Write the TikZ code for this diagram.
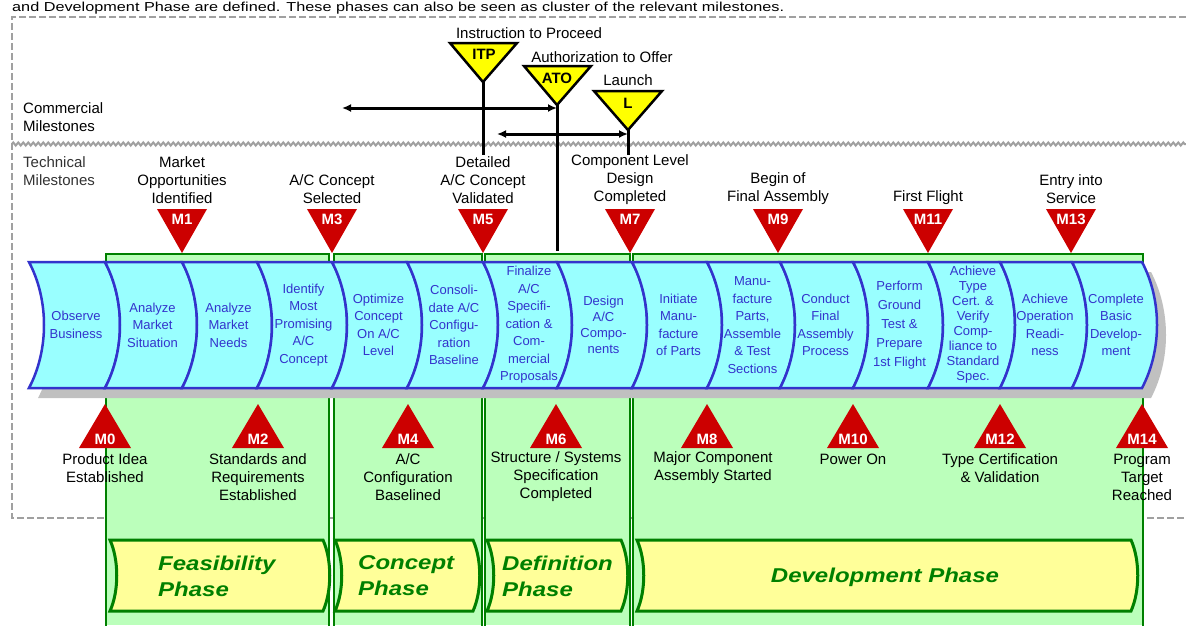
\documentclass[tikz,border=0pt]{standalone}
\usepackage{fontspec}
\setmainfont{Liberation Sans}
\newfontfamily\phasefont[FakeStretch=1.2]{Liberation Sans}
\newfontfamily\capfont[FakeStretch=1.25]{Liberation Sans}
\usetikzlibrary{arrows.meta,decorations.pathmorphing}
\definecolor{chevfill}{HTML}{99FFFF}
\definecolor{chevblue}{HTML}{3333CC}
\definecolor{mred}{HTML}{CC0000}
\definecolor{myellow}{HTML}{FFFF00}
\definecolor{pfill}{HTML}{FFFF99}
\definecolor{gfill}{HTML}{BBFFBB}
\definecolor{gline}{HTML}{008000}
\definecolor{shadowgray}{HTML}{C0C0C0}
\definecolor{dashgray}{HTML}{A0A0A0}
\begin{document}
\begin{tikzpicture}[x=1pt,y=-1pt,
  lbl/.style={font=\fontsize{15}{18}\selectfont, align=center, inner sep=0},
  sidelbl/.style={font=\fontsize{15}{18}\selectfont, align=left, inner sep=0, anchor=west},
  chtext/.style={font=\fontsize{13}{#1}\selectfont, text=chevblue, align=center, inner sep=0},
  mtxt/.style={font=\fontsize{15}{15}\selectfont\bfseries, text=white, inner sep=0},
  ctxt/.style={font=\fontsize{15}{15}\selectfont\bfseries, text=black, inner sep=0},
  phasetxt/.style={font=\phasefont\fontsize{20}{26}\selectfont\bfseries\itshape, text=gline, align=left, inner sep=0},
  chev/.style={fill=chevfill, draw=chevblue, line width=2.5},
  redtri/.style={fill=mred},
  ctri/.style={fill=myellow, draw=black, line width=2.5, line join=miter},
  cline/.style={line width=3},
  carrow/.style={line width=3, {Latex[length=9pt,width=8pt]}-{Latex[length=9pt,width=8pt]}},
  gcolfill/.style={fill=gfill},
  gcolline/.style={draw=gline, line width=1.5},
  phasebox/.style={fill=pfill, draw=gline, line width=3},
  dbox/.style={draw=dashgray, line width=2.5, dash pattern=on 7pt off 3pt},
  sepline/.style={draw=dashgray, line width=2, decorate, decoration={zigzag, segment length=5pt, amplitude=1.5pt}}
]
\useasboundingbox (0,0) rectangle (1186,625);
\fill[white] (0,0) rectangle (1186,625);

% caption line at the top
\node[font=\capfont\fontsize{13}{15}\selectfont, anchor=base west, inner sep=0] (caption) at (12,11.5)
  {and Development Phase are defined. These phases can also be seen as cluster of the relevant milestones.};

% dashed frame and separator
\draw[dbox] (1186,17) -- (12,17) -- (12,518) -- (1186,518);
\draw[sepline] (12,144) -- (1186,144);

\node[sidelbl] (commlbl) at (23,117) {Commercial\\Milestones};
\node[sidelbl, text=black!80] (techlbl) at (23,171) {Technical\\Milestones};

% green phase columns
\foreach \l/\r in {106/329, 334/482, 485/630, 633/1143} {
  \fill[gcolfill] (\l,254) rectangle (\r,625);
  \draw[gcolline] (\l,626) -- (\l,254) -- (\r,254) -- (\r,626);
}

% chevron shadow
\fill[shadowgray] (38,272) -- (1151,272) .. controls (1171,310) and (1171,360) .. (1151,398)
  -- (38,398) .. controls (58,360) and (58,310) .. cycle;

% chevrons
\foreach \a/\b/\s/\t [count=\i] in {
  29/105/17.5/{Observe\\Business},
  105/182/17.5/{Analyze\\Market\\Situation},
  182/257/17.5/{Analyze\\Market\\Needs},
  257/332/17.5/{Identify\\Most\\Promising\\A/C\\Concept},
  332/407/17.5/{Optimize\\Concept\\On A/C\\Level},
  407/483/17.5/{Consoli-\\date A/C\\Configu-\\ration\\Baseline},
  483/557/17.5/{Finalize\\A/C\\Specifi-\\cation \&\\Com-\\mercial\\Proposals},
  557/632/16/{Design\\A/C\\Compo-\\nents},
  632/707/17.5/{Initiate\\Manu-\\facture\\of Parts},
  707/780/17.5/{Manu-\\facture\\Parts,\\Assemble\\\& Test\\Sections},
  780/853/17.5/{Conduct\\Final\\Assembly\\Process},
  853/928/19/{Perform\\Ground\\Test \&\\Prepare\\1st Flight},
  928/1000/15/{Achieve\\Type\\Cert. \&\\Verify\\Comp-\\liance to\\Standard\\Spec.},
  1000/1072/17.5/{Achieve\\Operation\\Readi-\\ness},
  1072/1142/17.5/{Complete\\Basic\\Develop-\\ment}} {
  \draw[chev] (\a,262) -- (\b,262) .. controls ({\b+20},300) and ({\b+20},350) .. (\b,388)
    -- (\a,388) .. controls ({\a+20},350) and ({\a+20},300) .. cycle;
  \node[chtext=\s] (ch\i) at ({(\a+\b)/2+9},325) {\t};
}

% technical milestones, top (pointing down)
\foreach \x/\n in {182/M1, 332/M3, 483/M5, 630/M7, 778/M9, 928/M11, 1071/M13} {
  \fill[redtri] ({\x-25},209) -- ({\x+25},209) -- (\x,253) -- cycle;
  \node[mtxt] (\n) at (\x,219) {\n};
}
\node[lbl] (lM1) at (182,180) {Market\\Opportunities\\Identified};
\node[lbl] (lM3) at (332,189) {A/C Concept\\Selected};
\node[lbl] (lM5) at (483,180) {Detailed\\A/C Concept\\Validated};
\node[lbl] (lM7) at (630,180) {Component Level\\Design\\Completed};
\node[lbl] (lM9) at (778,189) {Begin of\\Final Assembly};
\node[lbl] (lM11) at (928,198) {First Flight};
\node[lbl] (lM13) at (1071,189) {Entry into\\Service};

% technical milestones, bottom (pointing up)
\foreach \x/\n in {105/M0, 258/M2, 408/M4, 556/M6, 707/M8, 853/M10, 1000/M12, 1142/M14} {
  \fill[redtri] ({\x-26},448) -- ({\x+26},448) -- (\x,404) -- cycle;
  \node[mtxt] (\n) at (\x,439) {\n};
}
\node[lbl] (lM0) at (105,468) {Product Idea\\Established};
\node[lbl] (lM2) at (258,477) {Standards and\\Requirements\\Established};
\node[lbl] (lM4) at (408,477) {A/C\\Configuration\\Baselined};
\node[lbl] (lM6) at (556,477) {Structure / Systems\\Specification\\Completed};
\node[lbl] (lM8) at (713,468) {Major Component\\Assembly Started};
\node[lbl] (lM10) at (853,459) {Power On};
\node[lbl] (lM12) at (1000,468) {Type Certification\\\& Validation};
\node[lbl] (lM14) at (1142,477) {Program\\Target\\Reached};

% commercial milestones
\coordinate (itpapex) at (483,82);
\coordinate (atoapex) at (557,105);
\coordinate (lapex) at (628,130);
\coordinate (itpend) at (483,155);
\coordinate (atoend) at (557,251);
\coordinate (lend) at (628,155);
\coordinate (a1left) at (342,108);
\coordinate (a1right) at (557,108);
\coordinate (a2left) at (497,134);
\coordinate (a2right) at (628,134);

\draw[cline] (itpapex) -- (itpend);
\draw[cline] (atoapex) -- (atoend);
\draw[cline] (lapex) -- (lend);
\draw[carrow] (a1left) -- (a1right);
\draw[carrow] (a2left) -- (a2right);

\draw[ctri] (450,43) -- (517,43) -- (itpapex) -- cycle;
\draw[ctri] (524,66) -- (591,66) -- (atoapex) -- cycle;
\draw[ctri] (594,91) -- (662,91) -- (lapex) -- cycle;
\node[ctxt] (itp) at (484,54) {ITP};
\node[ctxt] (ato) at (557,78) {ATO};
\node[ctxt] (launch) at (628,103) {L};
\node[lbl] (litp) at (529,33) {Instruction to Proceed};
\node[lbl] (lato) at (602,57) {Authorization to Offer};
\node[lbl] (llaunch) at (628,80) {Launch};

% phases
\foreach \l/\r [count=\i] in {110/323, 335/473, 487/621, 637/1131} {
  \draw[phasebox] (\l,540) -- (\r,540) .. controls ({\r+9},560) and ({\r+9},591) .. (\r,611)
    -- (\l,611) .. controls ({\l+9},591) and ({\l+9},560) .. cycle;
}
\node[phasetxt, anchor=west] (pfeas) at (158,576) {Feasibility\\Phase};
\node[phasetxt, anchor=west] (pconc) at (358,576) {Concept\\Phase};
\node[phasetxt, anchor=west] (pdef) at (502,576) {Definition\\Phase};
\node[phasetxt] (pdev) at (885,577) {Development Phase};
\end{tikzpicture}
\end{document}
